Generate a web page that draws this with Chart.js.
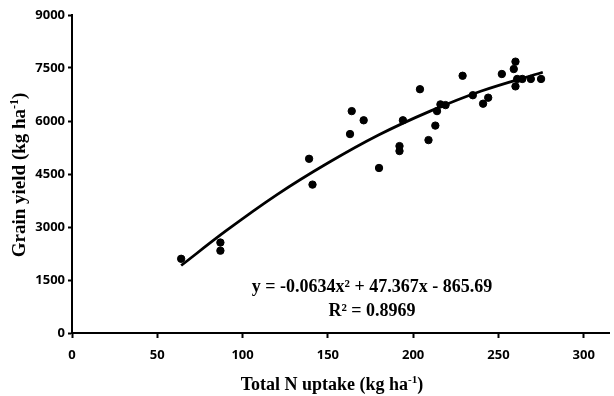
<!DOCTYPE html>
<html>
<head>
<meta charset="utf-8">
<script src="https://cdn.jsdelivr.net/npm/chart.js@4"></script>
<style>
  html, body { margin: 0; padding: 0; background: #fff; }
  #wrap { width: 614px; height: 396px; }
</style>
</head>
<body>
<div id="wrap"><canvas id="chart" width="614" height="396"></canvas></div>
<script>
// Total N uptake (kg/ha) vs grain yield (kg/ha)
var uptake = [64, 87, 87, 139, 141, 163, 164, 171, 180, 192, 192, 194, 204, 209, 213, 214, 216, 219,
              229, 235, 241, 244, 252, 259, 260, 261, 260, 264, 269, 275];
var grainYield = [2100, 2560, 2330, 4930, 4200, 5630, 6280, 6020, 4670, 5290, 5150, 6020, 6900, 5460, 5870, 6280, 6470, 6450,
                  7280, 6730, 6490, 6660, 7330, 7470, 7680, 7190, 6980, 7190, 7190, 7190];

// polynomial trendline
var trendX = [64, 90, 120, 150, 180, 210, 240, 276];
var trendY = [1910, 2880, 3910, 4810, 5610, 6280, 6850, 7380];

var xTicks = [0, 50, 100, 150, 200, 250, 300];
var yTicks = [0, 1500, 3000, 4500, 6000, 7500, 9000];

var eqLines = ["y = -0.0634x\u00b2 + 47.367x - 865.69", "R\u00b2 = 0.8969"];

var points = uptake.map((x, i) => ({ x: x, y: grainYield[i] }));
var trend = trendX.map((x, i) => ({ x: x, y: trendY[i] }));

var tickFont = { family: "'Open Sans', 'Liberation Sans', sans-serif", size: 13, weight: "bold" };

// draws axis titles (with superscripts) and the trendline equation
var labelsPlugin = {
    id: "labels",
    afterDraw(chart) {
        var ctx = chart.ctx;
        ctx.save();
        ctx.fillStyle = "#000";

        function supText(parts, cx, cy, size) {
            // parts: [text, isSup]
            var w = 0;
            parts.forEach((p) => {
                ctx.font = "bold " + (p[1] ? size * 0.62 : size) + "px 'Liberation Serif', serif";
                w += ctx.measureText(p[0]).width;
            });
            var x = cx - w / 2;
            ctx.textBaseline = "alphabetic";
            ctx.textAlign = "left";
            parts.forEach((p) => {
                ctx.font = "bold " + (p[1] ? size * 0.62 : size) + "px 'Liberation Serif', serif";
                ctx.fillText(p[0], x, p[1] ? cy - size * 0.38 : cy);
                x += ctx.measureText(p[0]).width;
            });
        }

        // x title
        supText([["Total N uptake (kg ha", false], ["-1", true], [")", false]], 332, 390, 18);

        // y title
        ctx.save();
        ctx.translate(25, 175);
        ctx.rotate(-Math.PI / 2);
        supText([["Grain yield (kg ha", false], ["-1", true], [")", false]], 0, 0, 19);
        ctx.restore();

        // equation
        ctx.font = "bold 18px 'Liberation Serif', serif";
        ctx.textAlign = "center";
        ctx.textBaseline = "alphabetic";
        ctx.fillText(eqLines[0], 372, 292);
        ctx.fillText(eqLines[1], 372, 316);
        ctx.restore();
    },
};

new Chart(document.getElementById("chart"), {
    type: "scatter",
    data: {
        datasets: [
            {
                label: "Observed",
                data: points,
                backgroundColor: "#000",
                borderColor: "#000",
                pointRadius: 3.7,
                pointHoverRadius: 3.7,
            },
            {
                label: "Poly. fit",
                type: "line",
                data: trend,
                borderColor: "#000",
                borderWidth: 2.8,
                pointRadius: 0,
                tension: 0.4,
                cubicInterpolationMode: "monotone",
                fill: false,
            },
        ],
    },
    options: {
        responsive: false,
        animation: false,
        events: [],
        layout: { padding: { top: 15, right: 0, left: 0, bottom: 0 } },
        plugins: {
            legend: { display: false },
            tooltip: { enabled: false },
        },
        scales: {
            x: {
                type: "linear",
                min: 0,
                max: 315,
                afterBuildTicks: (s) => {
                    s.ticks = xTicks.map((v) => ({ value: v }));
                },
                afterFit: (s) => {
                    s.height = 63;
                },
                ticks: { color: "#000", font: tickFont, padding: 9, maxRotation: 0, callback: (v) => String(v) },
                grid: { drawOnChartArea: false, tickLength: 5, tickColor: "#000", tickWidth: 2 },
                border: { color: "#000", width: 2 },
            },
            y: {
                min: 0,
                max: 9000,
                afterBuildTicks: (s) => {
                    s.ticks = yTicks.map((v) => ({ value: v }));
                },
                afterFit: (s) => {
                    s.width = 72;
                },
                ticks: { color: "#000", font: tickFont, padding: 3, callback: (v) => String(v) },
                grid: { drawOnChartArea: false, tickLength: 4, tickColor: "#000", tickWidth: 2 },
                border: { color: "#000", width: 2 },
            },
        },
    },
    plugins: [labelsPlugin],
});
</script>
</body>
</html>
